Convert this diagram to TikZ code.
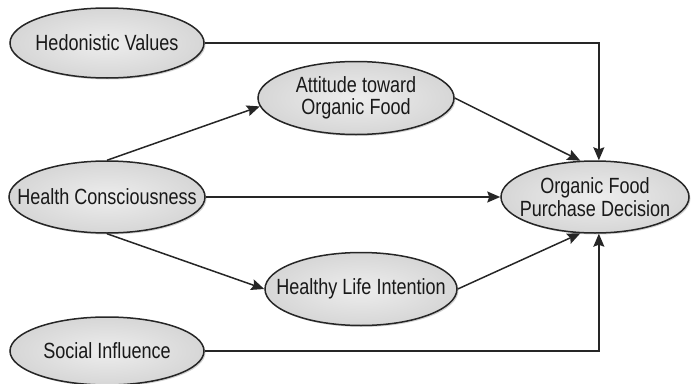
\documentclass[tikz,border=0pt]{standalone}
\usepackage{fontspec}
\setmainfont{Liberation Sans}[FakeStretch=0.82]
\usetikzlibrary{shapes.geometric,arrows.meta,shadows}
\begin{document}
\begin{tikzpicture}[x=1pt,y=-1pt,
  var/.style={ellipse, draw=black!85, line width=1.5pt, inner sep=0pt,
    inner color=gray!14, outer color=gray!32,
    drop shadow={shadow xshift=1.5pt, shadow yshift=-1.5pt, opacity=0.35}},
  lbl/.style={align=center, inner sep=0pt, text=black!90, font=\fontsize{22}{23.5}\selectfont},
  conn/.style={line width=1.5pt, draw=black!85,
    -{Stealth[length=13pt,width=11pt,inset=2pt]}}]
\useasboundingbox (0,0) rectangle (691,383);
\node[var, minimum width=194pt, minimum height=70pt] (hv) at (107,43) {};
\node[lbl] (hvt) at (hv) {Hedonistic Values};
\node[var, minimum width=196pt, minimum height=73pt] (att) at (356,98) {};
\node[lbl] (attt) at (att) {Attitude toward\\[-1pt]Organic Food};
\node[var, minimum width=196pt, minimum height=72pt] (hc) at (107,197) {};
\node[lbl] (hct) at (hc) {Health Consciousness};
\node[var, minimum width=188pt, minimum height=72pt] (opd) at (595,197) {};
\node[lbl] (opdt) at (opd) {Organic Food\\[-1pt]Purchase Decision};
\node[var, minimum width=192pt, minimum height=73pt] (hli) at (361,289) {};
\node[lbl] (hlit) at (hli) {Healthy Life Intention};
\node[var, minimum width=194pt, minimum height=68pt] (si) at (107,351) {};
\node[lbl] (sit) at (si) {Social Influence};
\draw[conn] (hv.east) -- (hv.east -| opd.84) -- (opd.84);
\draw[conn] (si.east) -- (si.east -| opd.-84) -- (opd.-84);
\draw[conn] (hc.north) -- (att.185);
\draw[conn] (hc.south) -- (hli.west);
\draw[conn] (hc.east) -- (opd.west);
\draw[conn] (att.east) -- (opd.112);
\draw[conn] (hli.east) -- (opd.248);
\end{tikzpicture}
\end{document}
